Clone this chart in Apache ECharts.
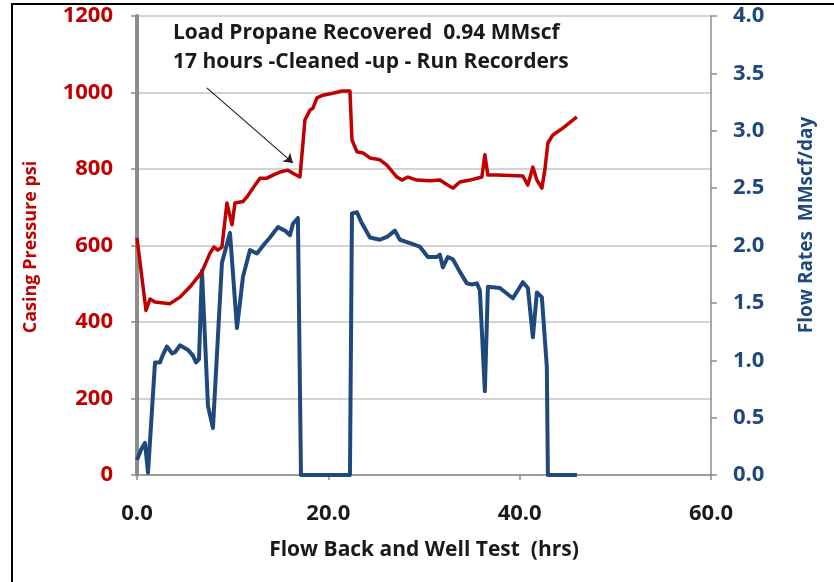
<!DOCTYPE html>
<html>
<head>
<meta charset="utf-8">
<title>Flow Back and Well Test</title>
<script src="https://cdn.jsdelivr.net/npm/echarts@6/dist/echarts.min.js"></script>
<style>
  html, body { margin: 0; padding: 0; background: #ffffff; }
  #chart { width: 834px; height: 582px; }
</style>
</head>
<body>
<div id="chart"></div>
<script>
// Casing pressure (psi) against elapsed time (hrs)
var pressureHours = [0, 0.94, 1.36, 1.88, 3.45, 4.5, 5.54, 6.79, 7.63, 8.05, 8.46, 8.88, 9.4, 9.93, 10.24, 11.08, 11.49, 12.12, 12.85, 13.58, 14.21, 14.94, 15.78, 16.3, 17.03, 17.35, 17.55, 18.08, 18.39, 18.81, 19.44, 20.48, 21.42, 22.26, 22.47, 22.99, 23.62, 24.35, 25.39, 26.12, 27.17, 27.69, 28.32, 29.26, 30.62, 31.66, 32.18, 33.02, 33.75, 34.8, 36.05, 36.36, 36.68, 37.62, 40.33, 40.86, 41.38, 41.8, 42.32, 42.63, 42.95, 43.47, 44.51, 45.98];
var pressurePsi = [620, 430, 460, 452, 448, 465, 492, 531, 580, 596, 588, 596, 711, 654, 711, 715, 727, 750, 776, 776, 784, 792, 797, 789, 779, 868, 928, 954, 959, 986, 993, 998, 1004, 1004, 876, 845, 842, 829, 824, 810, 779, 771, 779, 771, 769, 771, 763, 750, 766, 771, 779, 837, 784, 784, 782, 758, 805, 771, 750, 797, 868, 889, 907, 936];

// Gas flow rate (MMscf/day) against elapsed time (hrs)
var flowHours = [0, 0.42, 0.84, 1.15, 1.88, 2.4, 2.72, 3.13, 3.66, 3.97, 4.49, 5.33, 5.85, 6.17, 6.48, 6.79, 7.42, 7.94, 8.88, 9.72, 10.45, 11.08, 11.81, 12.54, 13.38, 13.9, 14.73, 15.47, 15.99, 16.3, 16.82, 17.14, 22.26, 22.47, 22.99, 23.41, 24.35, 25.39, 26.23, 26.96, 27.48, 28.53, 29.57, 30.41, 31.35, 31.66, 31.97, 32.5, 33.02, 33.75, 34.48, 35.01, 35.53, 35.84, 36.36, 36.68, 37.93, 39.29, 40.33, 40.86, 41.38, 41.8, 42.32, 42.84, 42.95, 45.98];
var flowRate = [0.13, 0.22, 0.28, 0.02, 0.98, 0.98, 1.05, 1.12, 1.06, 1.07, 1.13, 1.09, 1.04, 0.98, 1.01, 1.78, 0.6, 0.41, 1.85, 2.11, 1.28, 1.73, 1.96, 1.93, 2.02, 2.07, 2.16, 2.13, 2.09, 2.19, 2.24, 0, 0, 2.28, 2.29, 2.21, 2.07, 2.05, 2.08, 2.13, 2.05, 2.02, 1.99, 1.9, 1.9, 1.92, 1.81, 1.9, 1.88, 1.77, 1.67, 1.66, 1.67, 1.61, 0.73, 1.64, 1.63, 1.54, 1.68, 1.63, 1.2, 1.59, 1.55, 0.94, 0, 0];

// Arrow pointing at the 17-hour clean-up point: [hrs, psi]
var arrowStart = [7.3, 1012];
var arrowEnd = [16.3, 816];

var noteLines = ['Load Propane Recovered  0.94 MMscf', '17 hours -Cleaned -up - Run Recorders'];

function pairs(xs, ys) {
  return xs.map(function (x, i) { return [x, ys[i]]; });
}

var FONT = '"Open Sans"';
var RED = '#C00000';
var BLUE = '#1F497D';
var DARK = '#1a1a1a';

var chart = echarts.init(document.getElementById('chart'), null, { renderer: 'canvas' });

chart.setOption({
  backgroundColor: '#ffffff',
  animation: false,
  grid: { left: 137, right: 123, top: 16, bottom: 107, containLabel: false },
  xAxis: {
    type: 'value', min: 0, max: 60, interval: 20,
    name: 'Flow Back and Well Test  (hrs)',
    nameLocation: 'middle', nameGap: 65,
    nameTextStyle: { color: DARK, fontFamily: FONT, fontWeight: 'bold', fontSize: 21 },
    axisLine: { lineStyle: { color: '#8c8c8c', width: 1.5 } },
    axisTick: { show: true, inside: false, length: 5, lineStyle: { color: '#8c8c8c', width: 1.5 } },
    axisLabel: {
      margin: 28, color: DARK, fontFamily: FONT, fontWeight: 'bold', fontSize: 22,
      formatter: function (v) { return v.toFixed(1); }
    },
    splitLine: { show: false }
  },
  yAxis: [
    {
      type: 'value', min: 0, max: 1200, interval: 200,
      axisLine: { show: true, lineStyle: { color: '#8c8c8c', width: 4 } },
      axisTick: { show: true, length: 6, lineStyle: { color: '#8c8c8c', width: 1.5 } },
      axisLabel: {
        margin: 24, color: RED, fontFamily: FONT, fontWeight: 'bold', fontSize: 22,
        formatter: function (v) { return String(v); }
      },
      splitLine: { show: true, lineStyle: { color: '#c4c4c4', width: 1.5 } }
    },
    {
      type: 'value', min: 0, max: 4, interval: 0.5,
      position: 'right',
      axisLine: { show: true, lineStyle: { color: '#8c8c8c', width: 1.5 } },
      axisTick: { show: true, length: 6, lineStyle: { color: '#8c8c8c', width: 1.5 } },
      axisLabel: {
        margin: 22, color: BLUE, fontFamily: FONT, fontWeight: 'bold', fontSize: 22,
        formatter: function (v) { return v.toFixed(1); }
      },
      splitLine: { show: false }
    }
  ],
  series: [
    {
      name: 'Casing Pressure', type: 'line', yAxisIndex: 0,
      data: pairs(pressureHours, pressurePsi),
      showSymbol: false, symbol: 'none',
      lineStyle: { color: RED, width: 3.5, join: 'round' },
      z: 3,
      markLine: {
        silent: true, symbol: ['none', 'arrow'], symbolSize: 9,
        label: { show: false },
        emphasis: { disabled: true },
        lineStyle: { color: '#222222', width: 1.2, type: 'solid' },
        itemStyle: { color: '#222222' },
        data: [[{ coord: arrowStart }, { coord: arrowEnd }]]
      }
    },
    {
      name: 'Flow Rate', type: 'line', yAxisIndex: 1,
      data: pairs(flowHours, flowRate),
      showSymbol: false, symbol: 'none',
      lineStyle: { color: BLUE, width: 4, join: 'round' },
      z: 2
    }
  ],
  graphic: [
    {
      type: 'rect', silent: true, z: 100,
      shape: { x: 12, y: 4, width: 1000, height: 1000 },
      style: { fill: 'none', stroke: '#000000', lineWidth: 2 }
    },
    {
      type: 'text', silent: true, z: 100,
      x: 31, y: 247, rotation: Math.PI / 2,
      style: {
        text: 'Casing Pressure psi', fill: RED,
        font: 'bold 18px ' + FONT, align: 'center', verticalAlign: 'middle'
      }
    },
    {
      type: 'text', silent: true, z: 100,
      x: 807, y: 225, rotation: Math.PI / 2,
      style: {
        text: 'Flow Rates  MMscf/day', fill: BLUE,
        font: 'bold 19px ' + FONT, align: 'center', verticalAlign: 'middle'
      }
    },
    {
      type: 'text', silent: true, z: 100,
      x: 173, y: 33,
      style: { text: noteLines[0], fill: DARK, font: 'bold 21px ' + FONT, align: 'left', verticalAlign: 'middle' }
    },
    {
      type: 'text', silent: true, z: 100,
      x: 173, y: 62,
      style: { text: noteLines[1], fill: DARK, font: 'bold 21px ' + FONT, align: 'left', verticalAlign: 'middle' }
    }
  ]
});
</script>
</body>
</html>
